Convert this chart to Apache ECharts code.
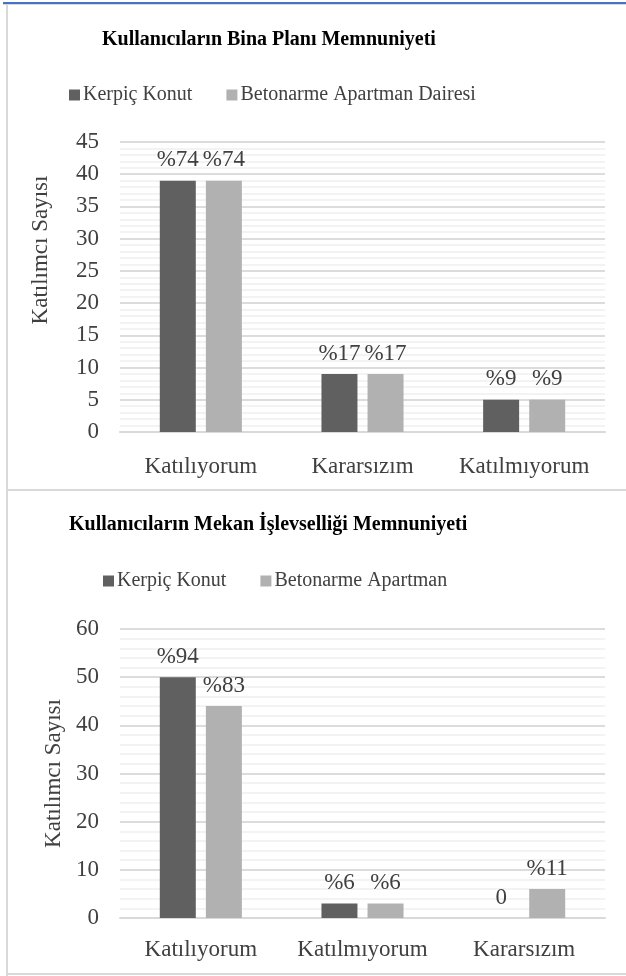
<!DOCTYPE html>
<html>
<head>
<meta charset="utf-8">
<script src="https://cdn.jsdelivr.net/npm/echarts@6/dist/echarts.min.js"></script>
<style>
  body { margin: 0; background: #fff; }
  #page { position: relative; width: 626px; height: 976px; overflow: hidden; }
  .blue { position: absolute; left: 3px; top: 2px; width: 623px; height: 2px; background: #4472c4; }
  .edge { position: absolute; background: #d9d9d9; }
  .chart { position: absolute; left: 8px; width: 618px; }
</style>
</head>
<body>
<div id="page">
  <div class="blue"></div>
  <div class="edge" style="left:3px;top:4px;width:623px;height:1px;"></div>
  <div class="edge" style="left:6px;top:4px;width:2px;height:972px;"></div>
  <div class="edge" style="left:6px;top:489px;width:620px;height:2px;"></div>
  <div class="edge" style="left:6px;top:973px;width:620px;height:2px;"></div>
  <div id="grafico1" class="chart" style="top:5px;height:484px;"></div>
  <div id="grafico2" class="chart" style="top:491px;height:482px;"></div>
</div>
<script>
// grafik 1 - bina plani
var kategoriler1 = ['Katılıyorum', 'Kararsızım', 'Katılmıyorum'];
var kerpic1 = [39, 9, 5];
var beton1 = [39, 9, 5];
var kerpicEtiket1 = ['%74', '%17', '%9'];
var betonEtiket1 = ['%74', '%17', '%9'];

// grafik 2 - mekan islevselligi
var kategoriler2 = ['Katılıyorum', 'Katılmıyorum', 'Kararsızım'];
var kerpic2 = [50, 3, 0];
var beton2 = [44, 3, 6];
var kerpicEtiket2 = ['%94', '%6', '0'];
var betonEtiket2 = ['%83', '%6', '%11'];

var font = "'Liberation Serif', 'Times New Roman', serif";
var koyu = '#606060';
var acik = '#b1b1b1';
var yazi = '#404040';

function grafikYap(dom, baslik, kategoriler, ad1, veri1, etiket1, ad2, veri2, etiket2, ymax, yint, ayar) {
    var chart = echarts.init(document.getElementById(dom));
    var etiket = function (liste) {
        return {
            show: true,
            position: 'top',
            distance: 9,
            fontFamily: font,
            fontSize: 23,
            color: yazi,
            formatter: function (p) { return liste[p.dataIndex]; }
        };
    };
    var option = {
        animation: false,
        title: {
            text: baslik,
            left: ayar.titleLeft,
            top: ayar.titleTop,
            padding: 0,
            textStyle: { fontFamily: font, fontSize: 20, fontWeight: 'bold', color: '#000' }
        },
        legend: {
            top: ayar.legendTop,
            left: ayar.legendLeft,
            padding: 0,
            itemWidth: 11,
            itemHeight: 11,
            itemGap: 34,
            icon: 'rect',
            textStyle: { fontFamily: font, fontSize: 20, color: yazi, padding: [0, 0, 0, -2] },
            data: [ad1, ad2]
        },
        grid: { left: 112, right: 21, top: ayar.gridTop, bottom: ayar.gridBottom },
        xAxis: {
            type: 'category',
            data: kategoriler,
            axisTick: { show: false },
            axisLine: { lineStyle: { color: '#d9d9d9', width: 2 } },
            axisLabel: { interval: 0, fontFamily: font, fontSize: 23, color: yazi, margin: ayar.xMargin }
        },
        yAxis: {
            type: 'value',
            min: 0,
            max: ymax,
            interval: yint,
            name: 'Katılımcı Sayısı',
            nameLocation: 'middle',
            nameGap: ayar.nameGap,
            nameTextStyle: { fontFamily: font, fontSize: 23, color: yazi, padding: ayar.namePad },
            axisLabel: { fontFamily: font, fontSize: 23, color: yazi, margin: 21 },
            axisLine: { show: false },
            axisTick: { show: false },
            splitLine: { lineStyle: { color: '#dcdcdc', width: 2 } },
            minorTick: { show: false, splitNumber: 5 },
            minorSplitLine: { show: true, lineStyle: { color: '#efefef', width: 1.5 } }
        },
        series: [
            {
                name: ad1, type: 'bar', data: veri1,
                barWidth: 36, barGap: '28%',
                itemStyle: { color: koyu },
                label: etiket(etiket1)
            },
            {
                name: ad2, type: 'bar', data: veri2,
                barWidth: 36,
                itemStyle: { color: acik },
                label: etiket(etiket2)
            }
        ]
    };
    chart.setOption(option);
    return chart;
}

grafikYap('grafico1', 'Kullanıcıların Bina Planı Memnuniyeti', kategoriler1,
    'Kerpiç Konut', kerpic1, kerpicEtiket1,
    'Betonarme Apartman Dairesi', beton1, betonEtiket1, 45, 5,
    { titleLeft: 94, titleTop: 25, legendLeft: 61, legendTop: 80, gridTop: 137, gridBottom: 57, xMargin: 23, nameGap: 68, namePad: [0, 0, 0, 74] });

grafikYap('grafico2', 'Kullanıcıların Mekan İşlevselliği Memnuniyeti', kategoriler2,
    'Kerpiç Konut', kerpic2, kerpicEtiket2,
    'Betonarme Apartman', beton2, betonEtiket2, 60, 10,
    { titleLeft: 61, titleTop: 24, legendLeft: 95, legendTop: 80, gridTop: 138, gridBottom: 55, xMargin: 20, nameGap: 46, namePad: 0 });
</script>
</body>
</html>
